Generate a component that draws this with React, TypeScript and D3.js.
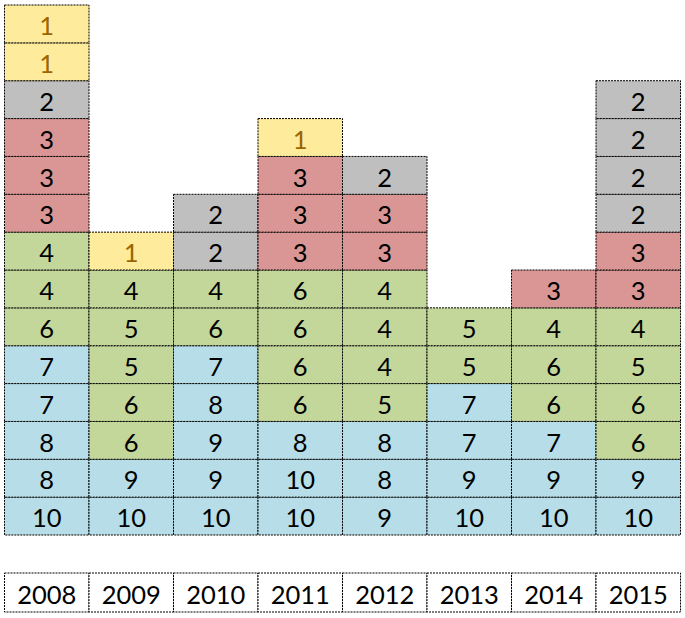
import React from "react";
import * as d3 from "d3";

const years = ["2008", "2009", "2010", "2011", "2012", "2013", "2014", "2015"];
// values per year, listed from bottom cell to top cell
const v2008 = [10, 8, 8, 7, 7, 6, 4, 4, 3, 3, 3, 2, 1, 1];
const v2009 = [10, 9, 6, 6, 5, 5, 4, 1];
const v2010 = [10, 9, 9, 8, 7, 6, 4, 2, 2];
const v2011 = [10, 10, 8, 6, 6, 6, 6, 3, 3, 3, 1];
const v2012 = [9, 8, 8, 5, 4, 4, 4, 3, 3, 2];
const v2013 = [10, 9, 7, 7, 5, 5];
const v2014 = [10, 9, 7, 6, 6, 4, 3];
const v2015 = [10, 9, 6, 6, 5, 4, 3, 3, 2, 2, 2, 2];
const columns = [v2008, v2009, v2010, v2011, v2012, v2013, v2014, v2015];

const fillFor = (v: number) =>
  v >= 7 ? "#B7DEE8" : v >= 4 ? "#C4D79B" : v === 3 ? "#DA9694" : v === 2 ? "#BFBFBF" : "#FFEB9C";
const textFor = (v: number) => (v === 1 ? "#9C6500" : "#000000");

export default function App() {
  const W = 685;
  const H = 618;
  const left = 4.5;
  const right = 680.5;
  const top = 5;
  const bottom = 535;
  const maxRows = 14;
  const x = d3.scaleBand<string>().domain(years).range([left, right]);
  const y = d3.scaleLinear().domain([0, maxRows]).range([bottom, top]);
  const labelTop = 573;
  const labelBottom = 612;
  const font = "Lato, 'Open Sans', sans-serif";
  const fs = 25.5;
  const dash = "2,1";

  return (
    <svg width={W} height={H} style={{ position: "absolute", left: 0, top: 0 }}>
      <rect x={0} y={0} width={W} height={H} fill="#fff" />
      {columns.map((col, ci) =>
        col.map((v, ri) => {
          const x0 = x(years[ci])!;
          const y0 = y(ri + 1);
          const h = y(ri) - y(ri + 1);
          return (
            <g key={`${ci}-${ri}`}>
              <rect
                x={x0}
                y={y0}
                width={x.bandwidth()}
                height={h}
                fill={fillFor(v)}
                stroke="#000"
                strokeWidth={1}
                strokeDasharray={dash}
              />
              <text
                x={x0 + x.bandwidth() / 2}
                y={y0 + h / 2}
                dy="0.44em"
                textAnchor="middle"
                fontFamily={font}
                fontSize={fs}
                fill={textFor(v)}
              >
                {v}
              </text>
            </g>
          );
        })
      )}
      {years.map((yr) => (
        <g key={yr}>
          <rect
            x={x(yr)!}
            y={labelTop}
            width={x.bandwidth()}
            height={labelBottom - labelTop}
            fill="#fff"
            stroke="#000"
            strokeWidth={1}
            strokeDasharray={dash}
          />
          <text
            x={x(yr)! + x.bandwidth() / 2}
            y={(labelTop + labelBottom) / 2}
            dy="0.44em"
            textAnchor="middle"
            fontFamily={font}
            fontSize={fs}
            fill="#000"
          >
            {yr}
          </text>
        </g>
      ))}
    </svg>
  );
}
